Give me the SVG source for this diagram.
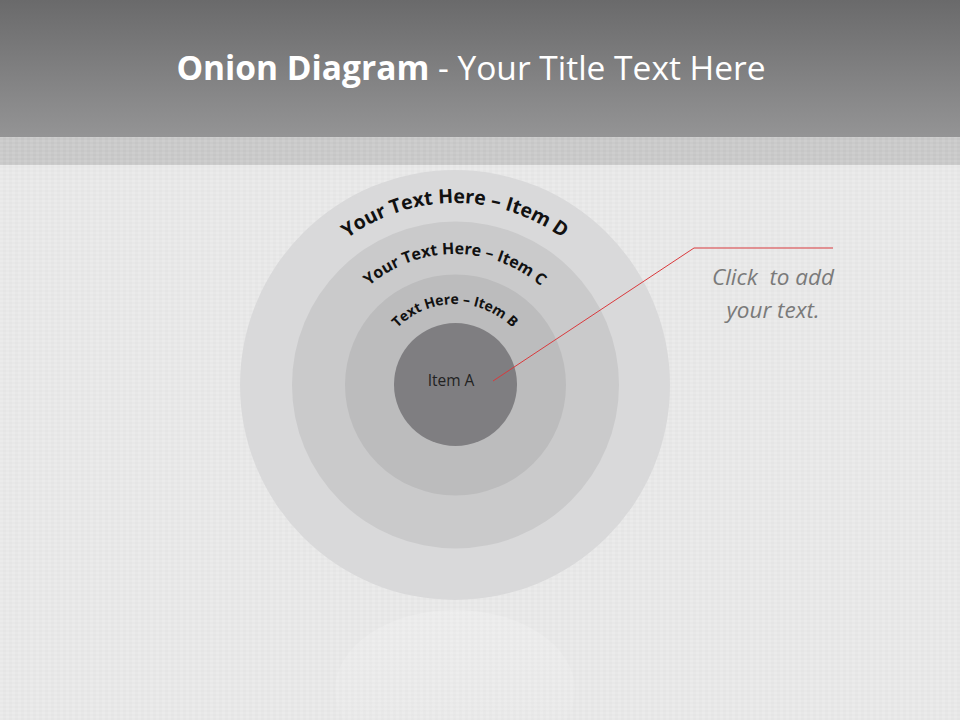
<svg xmlns="http://www.w3.org/2000/svg" width="960" height="720" viewBox="0 0 960 720">
<defs>
<linearGradient id="hdr" x1="0" y1="0" x2="0" y2="1">
<stop offset="0" stop-color="#6a6a6b"/>
<stop offset="1" stop-color="#949495"/>
</linearGradient>
<linearGradient id="refl" x1="0" y1="0" x2="0" y2="1">
<stop offset="0" stop-color="#ffffff" stop-opacity="0.18"/>
<stop offset="1" stop-color="#ffffff" stop-opacity="0"/>
</linearGradient>
<pattern id="tex" width="6" height="4" patternUnits="userSpaceOnUse">
<rect width="6" height="4" fill="#e8e8e8"/>
<rect x="0" y="0" width="3" height="2" fill="#ebebeb"/>
<rect x="3" y="2" width="3" height="2" fill="#e5e5e5"/>
</pattern>
<pattern id="tex2" width="6" height="4" patternUnits="userSpaceOnUse">
<rect width="6" height="4" fill="#cacaca"/>
<rect x="0" y="0" width="3" height="2" fill="#cecece"/>
<rect x="3" y="2" width="3" height="2" fill="#c6c6c6"/>
</pattern>
<path id="arcD" d="M 273,385 A 182,182 0 0 1 637,385"/>
<path id="arcC" d="M 324,385 A 131,131 0 0 1 586,385"/>
<path id="arcB" d="M 374,385 A 81,81 0 0 1 536,385"/>
</defs>
<style>
.arc{font-family:"Open Sans","Liberation Sans",sans-serif;font-weight:bold;fill:#111}
.lbl{font-family:"Open Sans","Liberation Sans",sans-serif;fill:#222}
.note{font-family:"Open Sans","Liberation Sans",sans-serif;font-style:italic;fill:#7a7a7a;font-size:22.5px}
.conn{stroke:#d9393c;stroke-width:1;fill:none}
</style>
<rect x="0" y="0" width="960" height="720" fill="url(#tex)"/>
<rect x="0" y="0" width="960" height="137" fill="url(#hdr)"/>
<rect x="0" y="137" width="960" height="28" fill="url(#tex2)"/>
<text x="471" y="80" text-anchor="middle" font-family="Open Sans, Liberation Sans, sans-serif" font-size="33.5" fill="#ffffff"><tspan font-weight="bold">Onion Diagram</tspan> - Your Title Text Here</text>
<ellipse cx="455" cy="690" rx="120" ry="80" fill="url(#refl)"/>
<g id="itemD">
<circle cx="455" cy="385" r="215" fill="#d9d9da"/>
<text class="arc" font-size="19.5"><textPath href="#arcD" startOffset="50%" text-anchor="middle">Your Text Here – Item D</textPath></text>
</g>
<g id="itemC">
<circle cx="455.5" cy="385" r="163.5" fill="#cacacb"/>
<text class="arc" font-size="16"><textPath href="#arcC" startOffset="50%" text-anchor="middle">Your Text Here – Item C</textPath></text>
</g>
<g id="itemB">
<circle cx="455.5" cy="385" r="110.5" fill="#bcbcbd"/>
<text class="arc" font-size="14"><textPath href="#arcB" startOffset="50%" text-anchor="middle">Text Here – Item B</textPath></text>
</g>
<g id="itemA">
<circle cx="455.5" cy="384.5" r="61.5" fill="#7f7e81"/>
<text class="lbl" x="451" y="386" text-anchor="middle" font-size="15.5">Item A</text>
</g>
<g id="connectors">
<polyline class="conn" points="493,381 694,248 833,248"/>
</g>
<g id="note">
<text class="note" x="773" y="285" text-anchor="middle" xml:space="preserve">Click  to add</text>
<text class="note" x="773" y="318" text-anchor="middle">your text.</text>
</g>
</svg>
